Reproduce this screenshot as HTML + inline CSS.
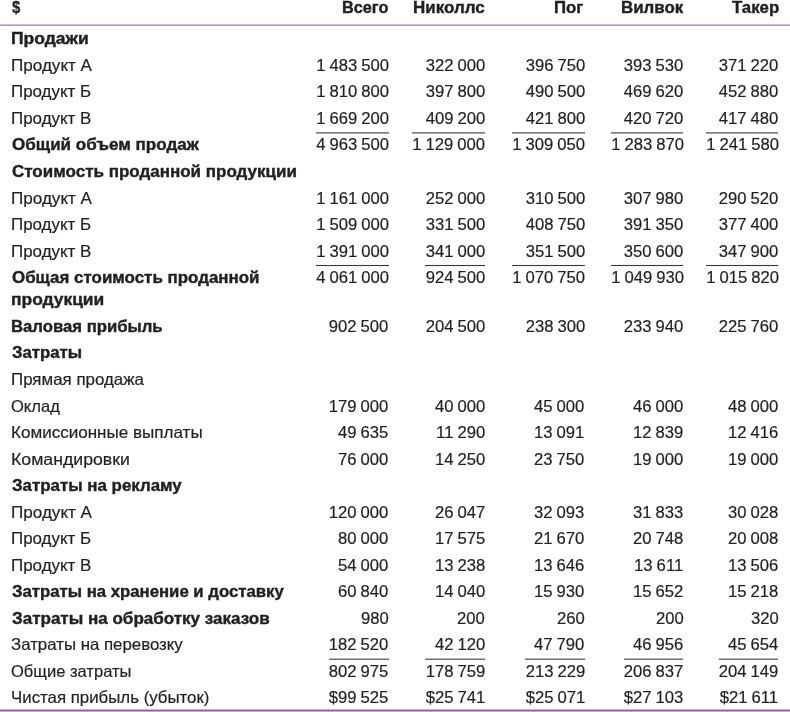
<!DOCTYPE html>
<html><head><meta charset="utf-8"><style>
html,body{margin:0;padding:0;background:#fff;}
body{width:790px;height:712px;position:relative;overflow:hidden;font-family:"Liberation Sans",sans-serif;font-size:16.5px;line-height:22px;color:#231f20;}
#w{position:absolute;left:0;top:0;width:790px;height:712px;will-change:transform;}
.l,.n,.h{position:absolute;white-space:nowrap;-webkit-text-stroke:0.2px #231f20;}
.l{transform-origin:0 0;}
.b{font-weight:bold;-webkit-text-stroke:0.4px #231f20;}
.n{text-align:right;font-size:16.0px;word-spacing:-0.6px;transform:scaleX(1.04);transform-origin:100% 0;}
.h{font-size:16.5px;font-weight:bold;transform-origin:0 0;-webkit-text-stroke:0.4px #231f20;}
.u{position:absolute;height:1px;}
.p{position:absolute;left:0;width:790px;height:1px;}

</style></head><body><div id="w">
<div class="p" style="top:24px;background:#d4bada"></div><div class="p" style="top:25px;background:#b897c2"></div>
<div class="p" style="top:709px;background:#cdb0d3"></div><div class="p" style="top:710px;background:#97619c"></div><div class="p" style="top:711px;background:#d39bdc"></div>
<div class="l b" style="left:11.92px;top:-4px;transform:scaleX(0.8986);-webkit-text-stroke:0.3px #231f20">$</div>
<div class="h" style="left:342.00px;top:-4px;transform:scaleX(0.9858)">Всего</div>
<div class="h" style="left:413.46px;top:-4px;transform:scaleX(1.0284)">Николлс</div>
<div class="h" style="left:553.76px;top:-4px;transform:scaleX(1.0152)">Пог</div>
<div class="h" style="left:620.87px;top:-4px;transform:scaleX(1.0225)">Вилвок</div>
<div class="h" style="left:731.91px;top:-4px;transform:scaleX(1.0183)">Такер</div>
<div class="l b" style="left:11.19px;top:27px;transform:scaleX(1.0610)">Продажи</div>
<div class="l" style="left:10.88px;top:54px;transform:scaleX(1.0347)">Продукт А</div>
<div class="n" style="right:401.40px;top:55px">1 483 500</div>
<div class="n" style="right:305.10px;top:55px">322 000</div>
<div class="n" style="right:205.20px;top:55px">396 750</div>
<div class="n" style="right:106.50px;top:55px">393 530</div>
<div class="n" style="right:11.50px;top:55px">371 220</div>
<div class="l" style="left:10.90px;top:80px;transform:scaleX(1.0250)">Продукт Б</div>
<div class="n" style="right:401.40px;top:81px">1 810 800</div>
<div class="n" style="right:305.10px;top:81px">397 800</div>
<div class="n" style="right:205.20px;top:81px">490 500</div>
<div class="n" style="right:106.50px;top:81px">469 620</div>
<div class="n" style="right:11.50px;top:81px">452 880</div>
<div class="l" style="left:10.89px;top:107px;transform:scaleX(1.0270)">Продукт В</div>
<div class="n" style="right:401.40px;top:108px">1 669 200</div>
<div class="n" style="right:305.10px;top:108px">409 200</div>
<div class="n" style="right:205.20px;top:108px">421 800</div>
<div class="n" style="right:106.50px;top:108px">420 720</div>
<div class="n" style="right:11.50px;top:108px">417 480</div>
<div class="u" style="left:315.82px;width:72.78px;top:132px;background:#817f80"></div>
<div class="u" style="left:315.82px;width:72.78px;top:133px;background:#a4a3a3"></div>
<div class="u" style="left:412.12px;width:72.78px;top:132px;background:#817f80"></div>
<div class="u" style="left:412.12px;width:72.78px;top:133px;background:#a4a3a3"></div>
<div class="u" style="left:512.02px;width:72.78px;top:132px;background:#817f80"></div>
<div class="u" style="left:512.02px;width:72.78px;top:133px;background:#a4a3a3"></div>
<div class="u" style="left:610.72px;width:72.78px;top:132px;background:#817f80"></div>
<div class="u" style="left:610.72px;width:72.78px;top:133px;background:#a4a3a3"></div>
<div class="u" style="left:705.72px;width:72.78px;top:132px;background:#817f80"></div>
<div class="u" style="left:705.72px;width:72.78px;top:133px;background:#a4a3a3"></div>
<div class="l b" style="left:11.58px;top:133px;transform:scaleX(1.0325)">Общий объем продаж</div>
<div class="n" style="right:401.40px;top:134px">4 963 500</div>
<div class="n" style="right:305.10px;top:134px">1 129 000</div>
<div class="n" style="right:205.20px;top:134px">1 309 050</div>
<div class="n" style="right:106.50px;top:134px">1 283 870</div>
<div class="n" style="right:11.50px;top:134px">1 241 580</div>
<div class="l b" style="left:11.59px;top:160px;transform:scaleX(1.0299)">Стоимость проданной продукции</div>
<div class="l" style="left:10.88px;top:187px;transform:scaleX(1.0347)">Продукт А</div>
<div class="n" style="right:401.40px;top:188px">1 161 000</div>
<div class="n" style="right:305.10px;top:188px">252 000</div>
<div class="n" style="right:205.20px;top:188px">310 500</div>
<div class="n" style="right:106.50px;top:188px">307 980</div>
<div class="n" style="right:11.50px;top:188px">290 520</div>
<div class="l" style="left:10.90px;top:213px;transform:scaleX(1.0250)">Продукт Б</div>
<div class="n" style="right:401.40px;top:214px">1 509 000</div>
<div class="n" style="right:305.10px;top:214px">331 500</div>
<div class="n" style="right:205.20px;top:214px">408 750</div>
<div class="n" style="right:106.50px;top:214px">391 350</div>
<div class="n" style="right:11.50px;top:214px">377 400</div>
<div class="l" style="left:10.89px;top:240px;transform:scaleX(1.0270)">Продукт В</div>
<div class="n" style="right:401.40px;top:241px">1 391 000</div>
<div class="n" style="right:305.10px;top:241px">341 000</div>
<div class="n" style="right:205.20px;top:241px">351 500</div>
<div class="n" style="right:106.50px;top:241px">350 600</div>
<div class="n" style="right:11.50px;top:241px">347 900</div>
<div class="u" style="left:315.82px;width:72.78px;top:264px;background:#f7f7f7"></div>
<div class="u" style="left:315.82px;width:72.78px;top:265px;background:#3a3738"></div>
<div class="u" style="left:315.82px;width:72.78px;top:266px;background:#f3f3f3"></div>
<div class="u" style="left:425.36px;width:59.54px;top:264px;background:#f7f7f7"></div>
<div class="u" style="left:425.36px;width:59.54px;top:265px;background:#3a3738"></div>
<div class="u" style="left:425.36px;width:59.54px;top:266px;background:#f3f3f3"></div>
<div class="u" style="left:512.02px;width:72.78px;top:264px;background:#f7f7f7"></div>
<div class="u" style="left:512.02px;width:72.78px;top:265px;background:#3a3738"></div>
<div class="u" style="left:512.02px;width:72.78px;top:266px;background:#f3f3f3"></div>
<div class="u" style="left:610.72px;width:72.78px;top:264px;background:#f7f7f7"></div>
<div class="u" style="left:610.72px;width:72.78px;top:265px;background:#3a3738"></div>
<div class="u" style="left:610.72px;width:72.78px;top:266px;background:#f3f3f3"></div>
<div class="u" style="left:705.72px;width:72.78px;top:264px;background:#f7f7f7"></div>
<div class="u" style="left:705.72px;width:72.78px;top:265px;background:#3a3738"></div>
<div class="u" style="left:705.72px;width:72.78px;top:266px;background:#f3f3f3"></div>
<div class="l b" style="left:11.59px;top:266px;transform:scaleX(1.0255)">Общая стоимость проданной</div>
<div class="l b" style="left:11.16px;top:288px;transform:scaleX(1.0543)">продукции</div>
<div class="n" style="right:401.40px;top:267px">4 061 000</div>
<div class="n" style="right:305.10px;top:267px">924 500</div>
<div class="n" style="right:205.20px;top:267px">1 070 750</div>
<div class="n" style="right:106.50px;top:267px">1 049 930</div>
<div class="n" style="right:11.50px;top:267px">1 015 820</div>
<div class="l b" style="left:11.24px;top:315px;transform:scaleX(1.0119)">Валовая прибыль</div>
<div class="n" style="right:401.40px;top:316px">902 500</div>
<div class="n" style="right:305.10px;top:316px">204 500</div>
<div class="n" style="right:205.20px;top:316px">238 300</div>
<div class="n" style="right:106.50px;top:316px">233 940</div>
<div class="n" style="right:11.50px;top:316px">225 760</div>
<div class="l b" style="left:11.66px;top:341px;transform:scaleX(1.0162)">Затраты</div>
<div class="l" style="left:10.90px;top:368px;transform:scaleX(1.0244)">Прямая продажа</div>
<div class="l" style="left:11.37px;top:395px;transform:scaleX(1.0026)">Оклад</div>
<div class="n" style="right:401.40px;top:396px">179 000</div>
<div class="n" style="right:305.10px;top:396px">40 000</div>
<div class="n" style="right:205.20px;top:396px">45 000</div>
<div class="n" style="right:106.50px;top:396px">46 000</div>
<div class="n" style="right:11.50px;top:396px">48 000</div>
<div class="l" style="left:10.88px;top:421px;transform:scaleX(1.0332)">Комиссионные выплаты</div>
<div class="n" style="right:401.40px;top:422px">49 635</div>
<div class="n" style="right:305.10px;top:422px">11 290</div>
<div class="n" style="right:205.20px;top:422px">13 091</div>
<div class="n" style="right:106.50px;top:422px">12 839</div>
<div class="n" style="right:11.50px;top:422px">12 416</div>
<div class="l" style="left:10.83px;top:448px;transform:scaleX(1.0726)">Командировки</div>
<div class="n" style="right:401.40px;top:449px">76 000</div>
<div class="n" style="right:305.10px;top:449px">14 250</div>
<div class="n" style="right:205.20px;top:449px">23 750</div>
<div class="n" style="right:106.50px;top:449px">19 000</div>
<div class="n" style="right:11.50px;top:449px">19 000</div>
<div class="l b" style="left:11.65px;top:474px;transform:scaleX(1.0232)">Затраты на рекламу</div>
<div class="l" style="left:10.88px;top:501px;transform:scaleX(1.0347)">Продукт А</div>
<div class="n" style="right:401.40px;top:502px">120 000</div>
<div class="n" style="right:305.10px;top:502px">26 047</div>
<div class="n" style="right:205.20px;top:502px">32 093</div>
<div class="n" style="right:106.50px;top:502px">31 833</div>
<div class="n" style="right:11.50px;top:502px">30 028</div>
<div class="l" style="left:10.90px;top:527px;transform:scaleX(1.0250)">Продукт Б</div>
<div class="n" style="right:401.40px;top:528px">80 000</div>
<div class="n" style="right:305.10px;top:528px">17 575</div>
<div class="n" style="right:205.20px;top:528px">21 670</div>
<div class="n" style="right:106.50px;top:528px">20 748</div>
<div class="n" style="right:11.50px;top:528px">20 008</div>
<div class="l" style="left:10.89px;top:554px;transform:scaleX(1.0270)">Продукт В</div>
<div class="n" style="right:401.40px;top:555px">54 000</div>
<div class="n" style="right:305.10px;top:555px">13 238</div>
<div class="n" style="right:205.20px;top:555px">13 646</div>
<div class="n" style="right:106.50px;top:555px">13 611</div>
<div class="n" style="right:11.50px;top:555px">13 506</div>
<div class="l b" style="left:11.66px;top:580px;transform:scaleX(1.0144)">Затраты на хранение и доставку</div>
<div class="n" style="right:401.40px;top:581px">60 840</div>
<div class="n" style="right:305.10px;top:581px">14 040</div>
<div class="n" style="right:205.20px;top:581px">15 930</div>
<div class="n" style="right:106.50px;top:581px">15 652</div>
<div class="n" style="right:11.50px;top:581px">15 218</div>
<div class="l b" style="left:11.65px;top:607px;transform:scaleX(1.0321)">Затраты на обработку заказов</div>
<div class="n" style="right:401.40px;top:608px">980</div>
<div class="n" style="right:305.10px;top:608px">200</div>
<div class="n" style="right:205.20px;top:608px">260</div>
<div class="n" style="right:106.50px;top:608px">200</div>
<div class="n" style="right:11.50px;top:608px">320</div>
<div class="l" style="left:11.47px;top:633px;transform:scaleX(1.0193)">Затраты на перевозку</div>
<div class="n" style="right:401.40px;top:634px">182 520</div>
<div class="n" style="right:305.10px;top:634px">42 120</div>
<div class="n" style="right:205.20px;top:634px">47 790</div>
<div class="n" style="right:106.50px;top:634px">46 956</div>
<div class="n" style="right:11.50px;top:634px">45 654</div>
<div class="u" style="left:329.06px;width:59.54px;top:658px;background:#b7b5b6"></div>
<div class="u" style="left:329.06px;width:59.54px;top:659px;background:#6f6d6d"></div>
<div class="u" style="left:425.36px;width:59.54px;top:658px;background:#b7b5b6"></div>
<div class="u" style="left:425.36px;width:59.54px;top:659px;background:#6f6d6d"></div>
<div class="u" style="left:525.26px;width:59.54px;top:658px;background:#b7b5b6"></div>
<div class="u" style="left:525.26px;width:59.54px;top:659px;background:#6f6d6d"></div>
<div class="u" style="left:623.96px;width:59.54px;top:658px;background:#b7b5b6"></div>
<div class="u" style="left:623.96px;width:59.54px;top:659px;background:#6f6d6d"></div>
<div class="u" style="left:718.96px;width:59.54px;top:658px;background:#b7b5b6"></div>
<div class="u" style="left:718.96px;width:59.54px;top:659px;background:#6f6d6d"></div>
<div class="l" style="left:11.37px;top:660px;transform:scaleX(1.0019)">Общие затраты</div>
<div class="n" style="right:401.40px;top:661px">802 975</div>
<div class="n" style="right:305.10px;top:661px">178 759</div>
<div class="n" style="right:205.20px;top:661px">213 229</div>
<div class="n" style="right:106.50px;top:661px">206 837</div>
<div class="n" style="right:11.50px;top:661px">204 149</div>
<div class="l" style="left:10.95px;top:686px;transform:scaleX(1.0204)">Чистая прибыль (убыток)</div>
<div class="n" style="right:401.40px;top:687px">$99 525</div>
<div class="n" style="right:305.10px;top:687px">$25 741</div>
<div class="n" style="right:205.20px;top:687px">$25 071</div>
<div class="n" style="right:106.50px;top:687px">$27 103</div>
<div class="n" style="right:11.50px;top:687px">$21 611</div>
</div></body></html>
